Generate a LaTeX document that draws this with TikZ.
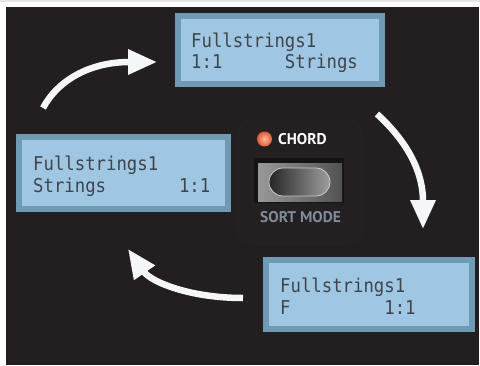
\documentclass[tikz,border=0pt]{standalone}
\usepackage{fontspec}
\usetikzlibrary{arrows.meta}
\newfontfamily\lcdfont{DejaVu Sans Mono}
\newfontfamily\panelfont{PT Sans}
\definecolor{panelbg}{HTML}{231F20}
\definecolor{groupbg}{HTML}{242021}
\definecolor{groupedge}{HTML}{292526}
\definecolor{bezelcol}{HTML}{151314}
\definecolor{lcdedge}{HTML}{6F9AB3}
\definecolor{lcdface}{HTML}{9FC6E2}
\definecolor{lcdink}{HTML}{40454B}
\definecolor{ledred}{HTML}{E35A35}
\definecolor{ledhot}{HTML}{F8B8A0}
\definecolor{labelgray}{HTML}{7F8C99}
\definecolor{arrowwhite}{HTML}{F4F6F8}
% one line of the dot-matrix display, slightly stretched upwards
\newcommand\lcdrow[1]{\scalebox{1}[1.1]{\lcdfont\fontsize{17.3}{20}\selectfont #1}}
\begin{document}
\begin{tikzpicture}[x=1pt,y=-1pt,
  lcd/.style={draw=lcdedge, fill=lcdface, line width=6pt, inner sep=0pt},
  lcdtext/.style={anchor=base west, inner sep=0pt, text=lcdink},
  paneltext/.style={anchor=base west, inner sep=0pt,
    font=\panelfont\bfseries\fontsize{15.5}{18}\selectfont},
  bigarrow/.style={draw=arrowwhite, line width=6.5pt,
    -{Triangle[length=29pt,width=24pt]}, fill=none}]
\useasboundingbox (0,0) rectangle (480,365);
% page edge and the dark front panel
\fill[white] (0,0) rectangle (480,365);
\fill[gray!20] (0,0) rectangle (480,2);
\fill[panelbg] (6,7) rectangle (479,365);

% control group behind the button
\draw[fill=groupbg, draw=groupedge, line width=0.6pt, rounded corners=15pt]
  (238,120) rectangle (362,244);

% the three display states
\node[lcd, minimum width=204pt, minimum height=68pt] (lcdA) at (280,50) {};
\node[lcd, minimum width=209pt, minimum height=72pt] (lcdB) at (123.5,173) {};
\node[lcd, minimum width=206pt, minimum height=69pt] (lcdC) at (369,294.5) {};

\node[lcdtext] (tA1) at (191,47) {\lcdrow{Fullstrings1}};
\node[lcdtext] (tA2) at (191,68) {\lcdrow{1:1~~~~~~Strings}};
\node[lcdtext] (tB1) at (33,170) {\lcdrow{Fullstrings1}};
\node[lcdtext] (tB2) at (33,192) {\lcdrow{Strings~~~~~~~1:1}};
\node[lcdtext] (tC1) at (280,292) {\lcdrow{Fullstrings1}};
\node[lcdtext] (tC2) at (280,314) {\lcdrow{F~~~~~~~~~1:1}};

% LED and labels
\node[circle, minimum size=15pt, inner sep=0pt, inner color=ledhot, outer color=ledred]
  (led) at (264.5,139) {};
\node[paneltext, text=white] (chord) at (278,144) {CHORD};
\node[paneltext, text=labelgray] (sortmode) at (260,222) {SORT MODE};

% SORT MODE push button
\node[fill=bezelcol, minimum width=90pt, minimum height=45pt, inner sep=0pt]
  (bezel) at (299,180.5) {};
\node[left color=black!40, right color=black!68, minimum width=84pt, minimum height=38pt,
  inner sep=0pt] (cap) at (300,182) {};
\node[rounded corners=14pt, left color=black!85, right color=black!38, draw=black!20,
  line width=0.8pt, minimum width=61pt, minimum height=28pt, inner sep=0pt]
  (pill) at (299.5,182) {};

% cycle arrows
\coordinate (a1s) at (43,108);
\coordinate (a1e) at (157,62);
\coordinate (a2s) at (377,114);
\coordinate (a2e) at (423,229);
\coordinate (a3s) at (243,298);
\coordinate (a3e) at (128,249);
\draw[bigarrow] (a1s) .. controls (58,80) and (90,62) .. (a1e);
\draw[bigarrow] (a2s) .. controls (400,135) and (423,165) .. (a2e);
\draw[bigarrow] (a3s) .. controls (190,298) and (151,282) .. (a3e);
\end{tikzpicture}
\end{document}
